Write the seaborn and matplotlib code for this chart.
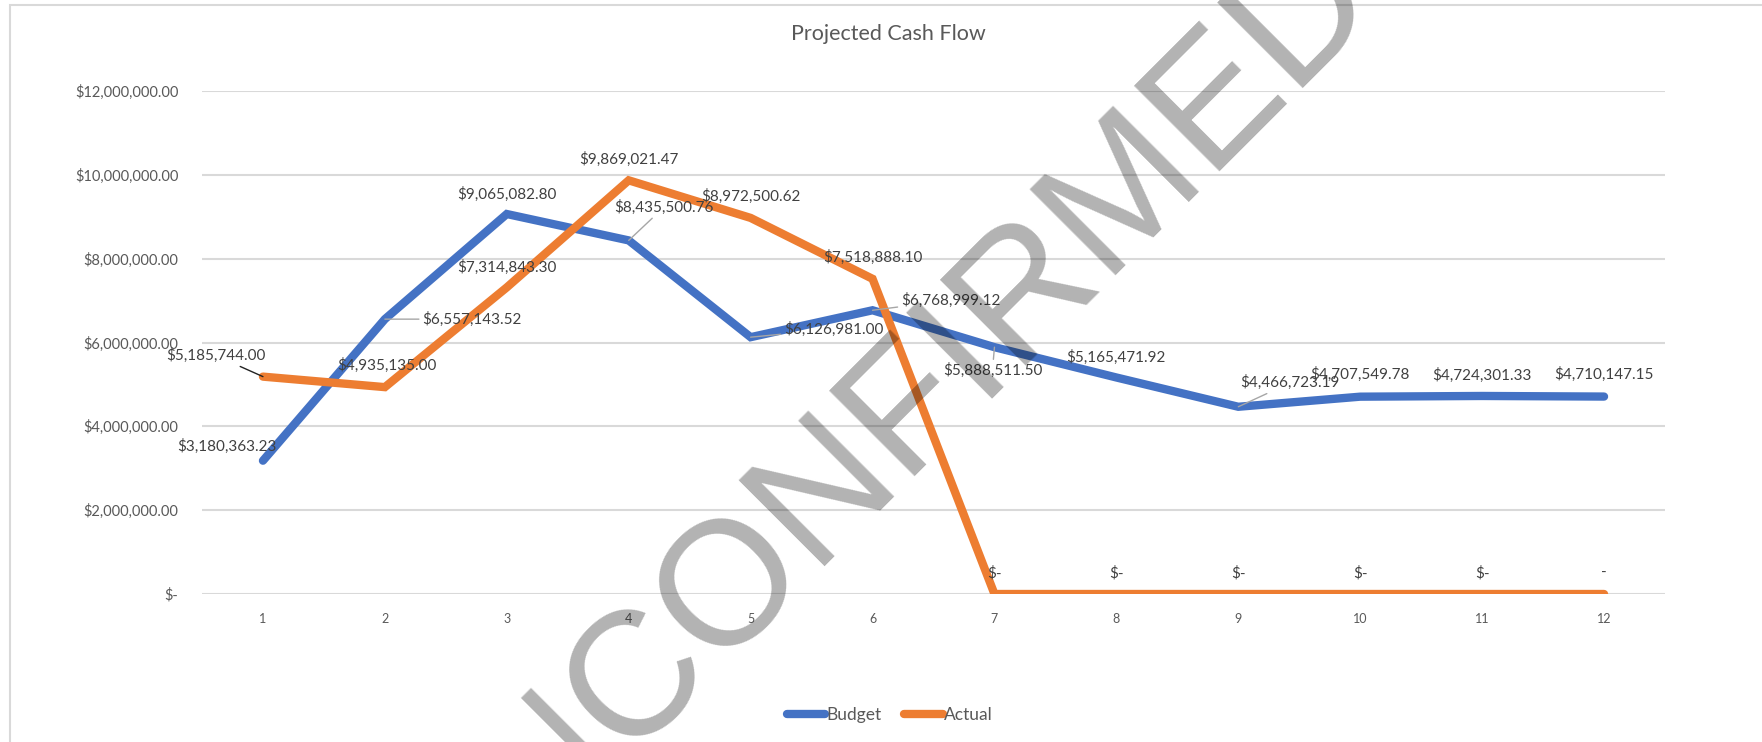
import pandas as pd
import matplotlib.pyplot as plt
import seaborn as sns
from matplotlib.patches import Rectangle

# =========================
# DATA
# =========================
months = [1, 2, 3, 4, 5, 6, 7, 8, 9, 10, 11, 12]
budget = [3180363.23, 6557143.52, 9065082.80, 8435500.76, 6126981.00, 6768999.12,
          5888511.50, 5165471.92, 4466723.19, 4707549.78, 4724301.33, 4710147.15]
actual = [5185744.00, 4935135.00, 7314843.30, 9869021.47, 8972500.62, 7518888.10,
          0, 0, 0, 0, 0, 0]
y_ticks = [0, 2000000, 4000000, 6000000, 8000000, 10000000, 12000000]

df = pd.DataFrame({
    'Month': months * 2,
    'Value': budget + actual,
    'Series': ['Budget'] * 12 + ['Actual'] * 12,
})

# label offsets in pixels (dx, dy) and whether a leader line is drawn
budget_off = [(-36, 14), (87, 0), (0, 20), (35, 33), (83, 8), (78, 10),
              (-2, -23), (0, 20), (52, 24), (0, 22), (0, 21), (0, 22)]
budget_lead = [False, True, False, True, True, True, True, False, True, False, False, False]
actual_off = [(-47, 21), (2, 22), (0, 20), (0, 21), (0, 22), (0, 21),
              (0, 21), (0, 21), (0, 21), (0, 21), (0, 21), (0, 21)]
actual_lead = [True] + [False] * 11


def money(v):
    if v == 0:
        return '$-'
    return '${:,.2f}'.format(v)


# =========================
# PLOT
# =========================
sns.set_style('white')
plt.rcParams['font.family'] = ['Lato', 'DejaVu Sans']

fig = plt.figure(figsize=(17.62, 7.42), dpi=100)
ax = fig.add_axes([202 / 1762, 1 - 594 / 742, 1463 / 1762, 503 / 742])

palette = {'Budget': '#4472C4', 'Actual': '#ED7D31'}
sns.lineplot(data=df, x='Month', y='Value', hue='Series', palette=palette,
             linewidth=6, ax=ax, legend=False, solid_capstyle='round',
             solid_joinstyle='miter')

ax.set_xlim(0.5, 12.5)
ax.set_ylim(0, 12000000)
ax.set_xticks(months)
ax.set_yticks(y_ticks)
ax.set_yticklabels([money(v) for v in y_ticks])
ax.set_xlabel('')
ax.set_ylabel('')
ax.tick_params(axis='y', length=0, pad=17, labelsize=10.5, labelcolor='#595959')
ax.tick_params(axis='x', length=0, pad=14, labelsize=9, labelcolor='#595959')
ax.grid(axis='y', color='#d9d9d9', linewidth=1.5)
ax.set_axisbelow(True)
for s in ax.spines.values():
    s.set_visible(False)

# data labels
for i, m in enumerate(months):
    dx, dy = budget_off[i]
    props = dict(arrowstyle='-', color='#a6a6a6', lw=1, shrinkA=0, shrinkB=0) if budget_lead[i] else None
    ax.annotate(money(budget[i]), (m, budget[i]), xytext=(dx, dy), textcoords='offset pixels',
                ha='center', va='center', fontsize=11, color='#404040', arrowprops=props)
for i, m in enumerate(months):
    dx, dy = actual_off[i]
    txt = money(actual[i])
    if i == len(months) - 1:
        txt = '-'
    props = dict(arrowstyle='-', color='#222222', lw=1, shrinkA=0, shrinkB=0) if actual_lead[i] else None
    ax.annotate(txt, (m, actual[i]), xytext=(dx, dy), textcoords='offset pixels',
                ha='center', va='center', fontsize=11, color='#404040', arrowprops=props)

fig.text(888 / 1762, 1 - 34 / 742, 'Projected Cash Flow', ha='center', va='center',
         fontsize=15.5, color='#595959')

handles = [plt.Line2D([], [], color=palette[k], lw=6, solid_capstyle='round') for k in ['Budget', 'Actual']]
fig.legend(handles, ['Budget', 'Actual'], loc='center', bbox_to_anchor=(890 / 1762, 1 - 715 / 742),
           ncol=2, frameon=False, fontsize=12.5, handlelength=2.2, handletextpad=0.1,
           columnspacing=1.3, labelcolor='#595959')

# chart frame
fig.patches.append(Rectangle((10 / 1762, -0.2), 1.2, 1.2 - 5 / 742, fill=False,
                             edgecolor='#d9d9d9', lw=1.5, transform=fig.transFigure))

# watermark
fig.text(912 / 1762, 1 - 466 / 742, 'UNCONFIRMED', rotation=45, fontsize=127,
         family='Liberation Sans', color='black', alpha=0.3, ha='center', va='baseline',
         rotation_mode='anchor', zorder=10)

fig.savefig('out.png', dpi=100)
